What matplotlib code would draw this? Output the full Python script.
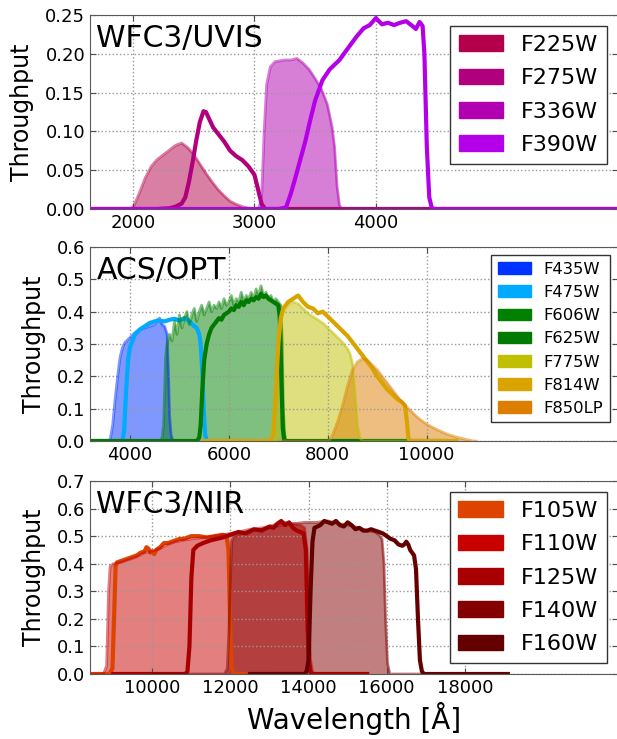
import matplotlib
matplotlib.use("Agg")
import matplotlib.pyplot as plt
from matplotlib.patches import Patch

# ---- WFC3/UVIS ----
uvis_names = ["F225W", "F275W", "F336W", "F390W"]
uvis_colors = ["#b4004a", "#b0007e", "#b000b0", "#b400e8"]
f225w_wl = [1500, 1950, 2000, 2050, 2100, 2150, 2200, 2250, 2300, 2350, 2400, 2450, 2500, 2550,
            2600, 2650, 2700, 2750, 2800, 2850, 2900, 2950, 3000, 6500]
f225w_tp = [0, 0, 0.002, 0.02, 0.04, 0.055, 0.064, 0.07, 0.076, 0.082, 0.085, 0.079, 0.07, 0.058,
            0.046, 0.035, 0.025, 0.017, 0.01, 0.006, 0.003, 0.001, 0, 0]
f275w_wl = [1500, 2200, 2300, 2350, 2400, 2430, 2460, 2490, 2520, 2550, 2580, 2600, 2630, 2660,
            2700, 2750, 2800, 2850, 2900, 2950, 3000, 3030, 3060, 3090, 6500]
f275w_tp = [0, 0, 0.001, 0.003, 0.007, 0.015, 0.035, 0.06, 0.088, 0.112, 0.126, 0.125, 0.115, 0.105,
            0.097, 0.087, 0.075, 0.068, 0.063, 0.055, 0.044, 0.025, 0.006, 0, 0]
f336w_wl = [1500, 3000, 3040, 3060, 3080, 3100, 3130, 3170, 3250, 3300, 3350, 3400, 3450, 3500,
            3550, 3600, 3640, 3660, 3680, 3700, 3720, 6500]
f336w_tp = [0, 0, 0.002, 0.02, 0.1, 0.16, 0.183, 0.19, 0.192, 0.192, 0.194, 0.188, 0.18, 0.168,
            0.155, 0.135, 0.105, 0.08, 0.03, 0.005, 0, 0]
f390w_wl = [1500, 3200, 3260, 3300, 3340, 3380, 3420, 3460, 3500, 3560, 3620, 3700, 3760, 3840,
            3900, 3950, 4000, 4050, 4100, 4150, 4200, 4250, 4300, 4330, 4360, 4385, 4400, 4420,
            4440, 4460, 4480, 6500]
f390w_tp = [0, 0, 0.002, 0.02, 0.042, 0.065, 0.088, 0.115, 0.14, 0.166, 0.18, 0.192, 0.205, 0.222,
            0.233, 0.237, 0.246, 0.238, 0.24, 0.237, 0.24, 0.242, 0.236, 0.232, 0.241, 0.236, 0.2,
            0.08, 0.015, 0.002, 0, 0]

# ---- ACS/OPT ----
acs_names = ["F435W", "F475W", "F606W", "F625W", "F775W", "F814W", "F850LP"]
acs_colors = ["#0033ff", "#00aaff", "#008000", "#007a00", "#c0c000", "#daa400", "#dc7e00"]
f435w_wl = [3000, 3550, 3600, 3650, 3700, 3750, 3800, 3850, 3900, 4000, 4100, 4200, 4300, 4400,
            4500, 4550, 4600, 4650, 4700, 4750, 4780, 4800, 4830, 4870, 5200]
f435w_tp = [0, 0, 0.005, 0.05, 0.13, 0.2, 0.26, 0.29, 0.305, 0.32, 0.335, 0.345, 0.35, 0.355,
            0.36, 0.375, 0.38, 0.36, 0.355, 0.33, 0.2, 0.08, 0.02, 0, 0]
f475w_wl = [3000, 3850, 3880, 3920, 3960, 4000, 4050, 4100, 4200, 4300, 4400, 4500, 4600, 4700,
            4800, 4900, 5000, 5100, 5200, 5300, 5350, 5400, 5430, 5460, 5490, 5520, 5550, 6500]
f475w_tp = [0, 0, 0.03, 0.15, 0.25, 0.29, 0.31, 0.33, 0.345, 0.355, 0.365, 0.37, 0.372, 0.37,
            0.375, 0.378, 0.372, 0.38, 0.37, 0.355, 0.35, 0.33, 0.3, 0.22, 0.1, 0.02, 0, 0]
f606w_wl = [3000, 4600, 4650, 4680, 4700, 4720, 4750, 4800, 4850, 4900, 4950, 5000, 5050, 5100,
            5150, 5200, 5250, 5300, 5350, 5400, 5450, 5500, 5550, 5600, 5650, 5700, 5750, 5800,
            5850, 5900, 5950, 6000, 6050, 6100, 6150, 6200, 6250, 6300, 6350, 6400, 6450, 6500,
            6550, 6600, 6650, 6700, 6750, 6800, 6850, 6900, 6950, 7000, 7050, 7080, 7100, 7130,
            7160, 10400]
f606w_tp = [0, 0, 0.01, 0.05, 0.15, 0.26, 0.3, 0.33, 0.31, 0.37, 0.33, 0.39, 0.35, 0.38,
            0.4, 0.36, 0.39, 0.41, 0.37, 0.4, 0.42, 0.39, 0.41, 0.43, 0.4, 0.42, 0.41, 0.43,
            0.41, 0.44, 0.42, 0.43, 0.45, 0.42, 0.44, 0.43, 0.46, 0.43, 0.45, 0.44, 0.46, 0.44,
            0.47, 0.45, 0.48, 0.45, 0.46, 0.44, 0.45, 0.43, 0.44, 0.43, 0.42, 0.3, 0.1, 0.02,
            0, 0]
f625w_wl = [3000, 5350, 5400, 5430, 5460, 5500, 5550, 5600, 5650, 5700, 5750, 5800, 5850, 5900,
            5950, 6000, 6050, 6100, 6150, 6200, 6250, 6300, 6350, 6400, 6450, 6500, 6550, 6600,
            6650, 6700, 6750, 6800, 6850, 6900, 6950, 7000, 7030, 7060, 7090, 7120, 10400]
f625w_tp = [0, 0, 0.01, 0.05, 0.15, 0.25, 0.3, 0.33, 0.35, 0.36, 0.37, 0.38, 0.375, 0.39,
            0.395, 0.4, 0.41, 0.405, 0.42, 0.415, 0.43, 0.42, 0.435, 0.43, 0.44, 0.435, 0.445, 0.44,
            0.455, 0.445, 0.45, 0.44, 0.435, 0.43, 0.425, 0.42, 0.38, 0.2, 0.04, 0, 0]
f775w_wl = [5500, 6800, 6850, 6900, 6950, 7000, 7050, 7100, 7200, 7300, 7400, 7500, 7600, 7700,
            7800, 7900, 8000, 8100, 8200, 8300, 8400, 8450, 8500, 8550, 8600, 8650, 8700, 10000]
f775w_tp = [0, 0, 0.01, 0.06, 0.2, 0.33, 0.38, 0.4, 0.42, 0.43, 0.425, 0.41, 0.395, 0.385,
            0.375, 0.365, 0.35, 0.335, 0.32, 0.305, 0.285, 0.27, 0.24, 0.15, 0.05, 0.01, 0, 0]
f814w_wl = [5500, 6850, 6900, 6950, 7000, 7050, 7100, 7200, 7300, 7400, 7450, 7500, 7600, 7700,
            7800, 7900, 8000, 8100, 8200, 8300, 8400, 8500, 8600, 8700, 8800, 8900, 9000, 9100,
            9200, 9300, 9400, 9500, 9560, 9600, 9630, 9660, 10600]
f814w_tp = [0, 0, 0.02, 0.15, 0.3, 0.38, 0.41, 0.43, 0.44, 0.45, 0.44, 0.43, 0.415, 0.41,
            0.395, 0.4, 0.385, 0.37, 0.355, 0.34, 0.325, 0.305, 0.285, 0.265, 0.245, 0.225, 0.2, 0.18,
            0.16, 0.145, 0.13, 0.12, 0.11, 0.06, 0.01, 0, 0]
f850lp_wl = [7000, 8000, 8050, 8100, 8200, 8300, 8400, 8500, 8600, 8700, 8800, 8900, 9000, 9100,
             9200, 9300, 9400, 9500, 9600, 9700, 9800, 9900, 10000, 10200, 10400, 10600, 10800,
             10950, 11000]
f850lp_tp = [0, 0, 0.005, 0.02, 0.06, 0.11, 0.17, 0.22, 0.245, 0.255, 0.25, 0.235, 0.22, 0.2,
             0.18, 0.16, 0.14, 0.12, 0.105, 0.09, 0.075, 0.063, 0.052, 0.036, 0.022, 0.012, 0.005,
             0, 0]

# ---- WFC3/NIR ----
nir_names = ["F105W", "F110W", "F125W", "F140W", "F160W"]
nir_colors = ["#dc4400", "#c80000", "#a80000", "#840000", "#640000"]
f105w_wl = [8000, 8900, 8980, 9020, 9060, 9100, 9200, 9300, 9400, 9500, 9600, 9700, 9800, 9850,
            9900, 9950, 10000, 10050, 10100, 10200, 10300, 10400, 10500, 10600, 10700, 10800,
            10900, 11000, 11200, 11400, 11600, 11800, 11900, 11950, 11990, 12030, 12080, 13000]
f105w_tp = [0, 0, 0.02, 0.2, 0.39, 0.405, 0.41, 0.415, 0.42, 0.425, 0.43, 0.44, 0.445, 0.46,
            0.455, 0.44, 0.445, 0.435, 0.45, 0.46, 0.475, 0.475, 0.48, 0.485, 0.49, 0.49,
            0.495, 0.5, 0.5, 0.495, 0.5, 0.505, 0.5, 0.45, 0.2, 0.02, 0, 0]
f110w_wl = [8000, 8750, 8830, 8880, 8920, 9000, 9200, 9400, 9600, 9800, 10000, 10200, 10400,
            10600, 10800, 11000, 11300, 11600, 12000, 12200, 12500, 12800, 13000, 13200, 13400,
            13600, 13800, 13900, 13960, 14000, 14050, 14100, 14150, 15500]
f110w_tp = [0, 0, 0.03, 0.3, 0.39, 0.4, 0.405, 0.415, 0.425, 0.44, 0.445, 0.455, 0.47,
            0.48, 0.485, 0.49, 0.495, 0.5, 0.51, 0.515, 0.525, 0.53, 0.535, 0.545, 0.55,
            0.545, 0.54, 0.53, 0.45, 0.25, 0.05, 0.01, 0, 0]
f125w_wl = [9000, 10850, 10900, 10950, 11000, 11050, 11150, 11300, 11500, 11650, 11800, 12000,
            12200, 12400, 12600, 12800, 13000, 13100, 13200, 13300, 13400, 13500, 13600, 13700,
            13800, 13870, 13930, 13970, 14000, 14040, 14080, 15500]
f125w_tp = [0, 0, 0.01, 0.1, 0.35, 0.45, 0.465, 0.475, 0.485, 0.49, 0.495, 0.505,
            0.515, 0.51, 0.525, 0.52, 0.535, 0.53, 0.545, 0.555, 0.54, 0.55, 0.53, 0.52,
            0.515, 0.51, 0.45, 0.2, 0.06, 0.01, 0, 0]
f140w_wl = [10000, 11850, 11920, 11960, 12000, 12030, 12100, 12300, 12500, 12800, 13000, 13300,
            13600, 13900, 14200, 14500, 14800, 15000, 15300, 15500, 15700, 15800, 15880, 15930,
            15970, 16020, 16080, 17000]
f140w_tp = [0, 0, 0.02, 0.15, 0.35, 0.48, 0.5, 0.51, 0.52, 0.525, 0.53, 0.54,
            0.545, 0.55, 0.55, 0.555, 0.545, 0.54, 0.53, 0.52, 0.515, 0.505, 0.49, 0.4,
            0.2, 0.04, 0, 0]
f160w_wl = [12500, 13900, 13950, 14000, 14050, 14100, 14150, 14300, 14400, 14500, 14600, 14700,
            14800, 14900, 15000, 15100, 15200, 15300, 15400, 15500, 15600, 15700, 15800, 15900,
            16000, 16100, 16200, 16300, 16400, 16450, 16500, 16550, 16600, 16700, 16750, 16800,
            16850, 16900, 16950, 19100]
f160w_tp = [0, 0, 0.01, 0.05, 0.3, 0.48, 0.53, 0.54, 0.555, 0.55, 0.545, 0.555,
            0.54, 0.535, 0.55, 0.54, 0.525, 0.53, 0.52, 0.52, 0.525, 0.52, 0.515, 0.51,
            0.5, 0.49, 0.485, 0.47, 0.465, 0.47, 0.48, 0.47, 0.45, 0.43, 0.38, 0.2,
            0.05, 0.01, 0, 0]

panels = [
    ("WFC3/UVIS", uvis_names, uvis_colors,
     [(f225w_wl, f225w_tp), (f275w_wl, f275w_tp), (f336w_wl, f336w_tp), (f390w_wl, f390w_tp)],
     (1645, 5995), (0, 0.25), [2000, 3000, 4000], [0, 0.05, 0.10, 0.15, 0.20, 0.25], "%.2f", 16, 0.6),
    ("ACS/OPT", acs_names, acs_colors,
     [(f435w_wl, f435w_tp), (f475w_wl, f475w_tp), (f606w_wl, f606w_tp), (f625w_wl, f625w_tp),
      (f775w_wl, f775w_tp), (f814w_wl, f814w_tp), (f850lp_wl, f850lp_tp)],
     (3191, 13870), (0, 0.6), [4000, 6000, 8000, 10000], [0, 0.1, 0.2, 0.3, 0.4, 0.5, 0.6], "%.1f", 11.8, 0.5),
    ("WFC3/NIR", nir_names, nir_colors,
     [(f105w_wl, f105w_tp), (f110w_wl, f110w_tp), (f125w_wl, f125w_tp), (f140w_wl, f140w_tp),
      (f160w_wl, f160w_tp)],
     (8405, 21920), (0, 0.7), [10000, 12000, 14000, 16000, 18000],
     [0, 0.1, 0.2, 0.3, 0.4, 0.5, 0.6, 0.7], "%.1f", 16, 0.6),
]

plt.rcParams["font.family"] = ["DejaVu Sans"]
fig = plt.figure(figsize=(6.17, 7.39), dpi=100)
boxes = [(15, 209), (247, 441), (481, 674)]
W, H = 617.0, 739.0

k = 0  # filled / line alternates over all filters
for (title, names, colors, curves, xlim, ylim, xt, yt, yfmt, lfs, lsp), (top, bot) in zip(panels, boxes):
    ax = fig.add_axes([90 / W, 1 - bot / H, 528 / W, (bot - top) / H])
    for (wl, tp), c in zip(curves, colors):
        if k % 2 == 0:
            ax.fill_between(wl, tp, color=c, alpha=0.5, lw=0)
            ax.plot(wl, tp, color=c, alpha=0.5, lw=2)
        else:
            ax.plot(wl, tp, color=c, lw=3)
        k += 1
    ax.set_xlim(*xlim)
    ax.set_ylim(*ylim)
    ax.set_xticks(xt)
    ax.set_yticks(yt)
    ax.yaxis.set_major_formatter(matplotlib.ticker.FormatStrFormatter(yfmt))
    ax.grid(True, color="0.6", linestyle=":", linewidth=1)
    ax.tick_params(direction="in", top=True, right=True, length=4, labelsize=13, color="0.3")
    for s in ax.spines.values():
        s.set_color("0.35")
    ax.text(0.012, 0.955, title, transform=ax.transAxes, fontsize=21.5, va="top", ha="left")
    ax.set_ylabel("Throughput", fontsize=17, labelpad=8)
    handles = [Patch(facecolor=c, edgecolor=c) for c in colors]
    leg = ax.legend(handles, names, loc="upper right", fontsize=lfs, fancybox=False,
                    framealpha=1, edgecolor="0.2", handlelength=2, labelspacing=lsp)
    leg.get_frame().set_linewidth(1)

ax.set_xlabel("Wavelength [Å]", fontsize=20)
fig.savefig("out.png", dpi=100)
